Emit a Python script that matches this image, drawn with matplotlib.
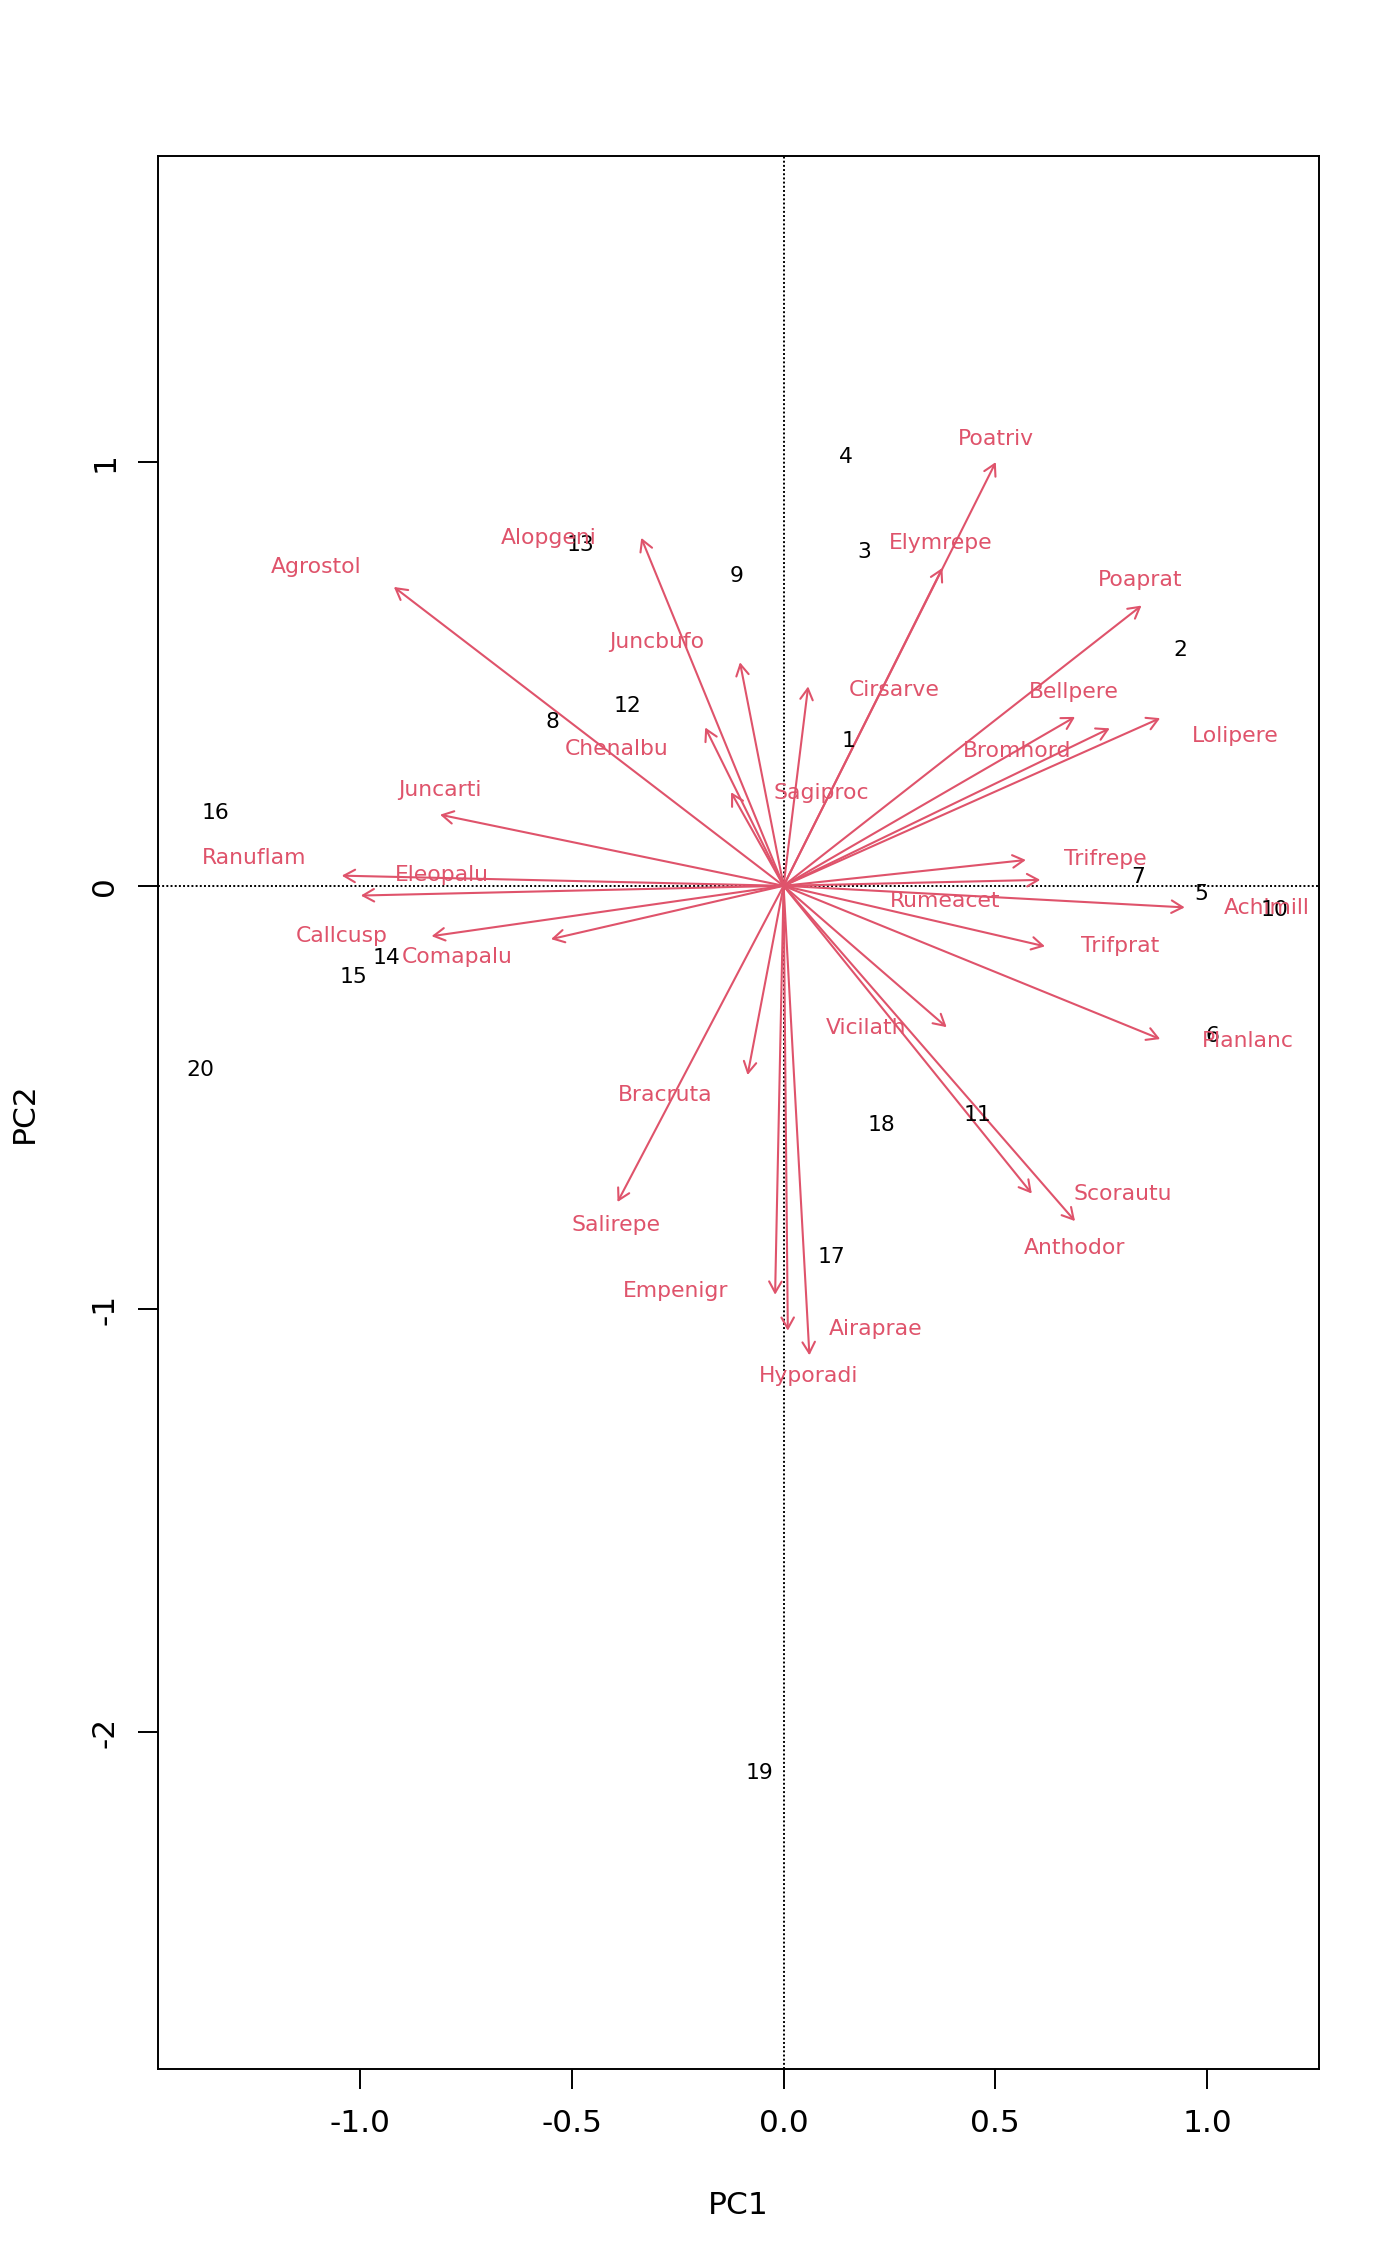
import matplotlib
matplotlib.use("Agg")
import matplotlib.pyplot as plt

# ---- data ----
species = ["Poatriv", "Elymrepe", "Poaprat", "Bellpere", "Bromhord", "Lolipere",
           "Trifrepe", "Rumeacet", "Achimill", "Trifprat", "Planlanc", "Vicilath",
           "Scorautu", "Anthodor", "Airaprae", "Hyporadi", "Empenigr", "Bracruta",
           "Salirepe", "Comapalu", "Callcusp", "Eleopalu", "Ranuflam", "Juncarti",
           "Agrostol", "Alopgeni", "Juncbufo", "Chenalbu", "Sagiproc", "Cirsarve"]
# arrow tips (species scores)
arrow_pc1 = [0.501, 0.375, 0.845, 0.688, 0.770, 0.889,
             0.572, 0.606, 0.947, 0.617, 0.889, 0.385,
             0.688, 0.586, 0.061, 0.010, -0.020, -0.085,
             -0.392, -0.549, -0.831, -0.998, -1.043, -0.811,
             -0.920, -0.336, -0.103, -0.185, -0.124, 0.058]
arrow_pc2 = [1.001, 0.751, 0.662, 0.399, 0.372, 0.396,
             0.061, 0.014, -0.051, -0.143, -0.362, -0.334,
             -0.792, -0.727, -1.109, -1.051, -0.966, -0.447,
             -0.747, -0.126, -0.119, -0.023, 0.024, 0.168,
             0.706, 0.822, 0.528, 0.374, 0.221, 0.471]
# species label positions
label_pc1 = [0.501, 0.371, 0.842, 0.685, 0.552, 1.066,
             0.760, 0.382, 1.141, 0.794, 1.097, 0.194,
             0.801, 0.688, 0.218, 0.058, -0.256, -0.279,
             -0.395, -0.770, -1.043, -0.807, -1.250, -0.811,
             -1.104, -0.555, -0.300, -0.395, 0.089, 0.262]
label_pc2 = [1.056, 0.810, 0.722, 0.459, 0.319, 0.353,
             0.063, -0.036, -0.053, -0.142, -0.367, -0.336,
             -0.729, -0.855, -1.046, -1.159, -0.958, -0.493,
             -0.801, -0.169, -0.118, 0.025, 0.066, 0.227,
             0.752, 0.821, 0.575, 0.322, 0.220, 0.462]

sites = [str(i) for i in range(1, 21)]
site_pc1 = [0.153, 0.937, 0.191, 0.147, 0.985, 1.012, 0.838, -0.545, -0.112, 1.158,
            0.457, -0.368, -0.480, -0.937, -1.015, -1.342, 0.112, 0.232, -0.058, -1.376]
site_pc2 = [0.342, 0.557, 0.789, 1.014, -0.020, -0.355, 0.021, 0.386, 0.731, -0.058,
            -0.542, 0.424, 0.806, -0.170, -0.215, 0.171, -0.877, -0.566, -2.095, -0.436]

xticks = [-1.0, -0.5, 0.0, 0.5, 1.0]
xticklabels = ["-1.0", "-0.5", "0.0", "0.5", "1.0"]
yticks = [1, 0, -1, -2]
yticklabels = ["1", "0", "-1", "-2"]
xlim = (-1.478, 1.264)
ylim = (-2.795, 1.724)

# ---- style ----
RED = "#DF536B"
plt.rcParams['font.family'] = ['DejaVu Sans']
W, H = 1400, 2266
fig = plt.figure(figsize=(W / 100, H / 100), dpi=100)
left, right, top, bottom = 157.5, 1319, 156, 2069
ax = fig.add_axes([left / W, 1 - bottom / H, (right - left) / W, (bottom - top) / H])
ax.set_xlim(*xlim)
ax.set_ylim(*ylim)

for s in ax.spines.values():
    s.set_linewidth(1.4)
    s.set_color("black")

ax.axhline(0, color="black", lw=1.4, ls=(0, (1, 1.15)), zorder=1)
ax.axvline(0, color="black", lw=1.4, ls=(0, (1, 1.15)), zorder=1)

# site labels
for name, x, y in zip(sites, site_pc1, site_pc2):
    ax.text(x, y, name, ha="center", va="center", fontsize=15.75, color="black", zorder=3)

# species arrows and labels
for name, ax1, ay1, lx, ly in zip(species, arrow_pc1, arrow_pc2, label_pc1, label_pc2):
    ax.annotate("", xy=(ax1, ay1), xytext=(0, 0),
                arrowprops=dict(arrowstyle="->,head_length=0.8,head_width=0.45",
                                color=RED, lw=1.5, shrinkA=0, shrinkB=0,
                                mutation_scale=10), zorder=2)
    ax.text(lx, ly, name, ha="center", va="center", fontsize=15.75, color=RED, zorder=3)

ax.set_xticks(xticks)
ax.set_xticklabels(xticklabels)
ax.set_yticks(yticks)
ax.set_yticklabels(yticklabels, rotation=90, va="center")
ax.tick_params(axis="both", length=14.4, width=1.4, labelsize=22.5, direction="out")
ax.tick_params(axis="x", pad=14.4)
ax.tick_params(axis="y", pad=13)

ax.set_xlabel("PC1", fontsize=22.5)
ax.set_ylabel("PC2", fontsize=22.5)
ax.xaxis.set_label_coords(0.5, (bottom - 2205) / (bottom - top))
ax.xaxis.label.set_va("center")
ax.yaxis.set_label_coords((24.6 - left) / (right - left), 0.5)
ax.yaxis.label.set_va("center")
ax.yaxis.label.set_ha("center")

fig.savefig("out.png", dpi=100, facecolor="white")
